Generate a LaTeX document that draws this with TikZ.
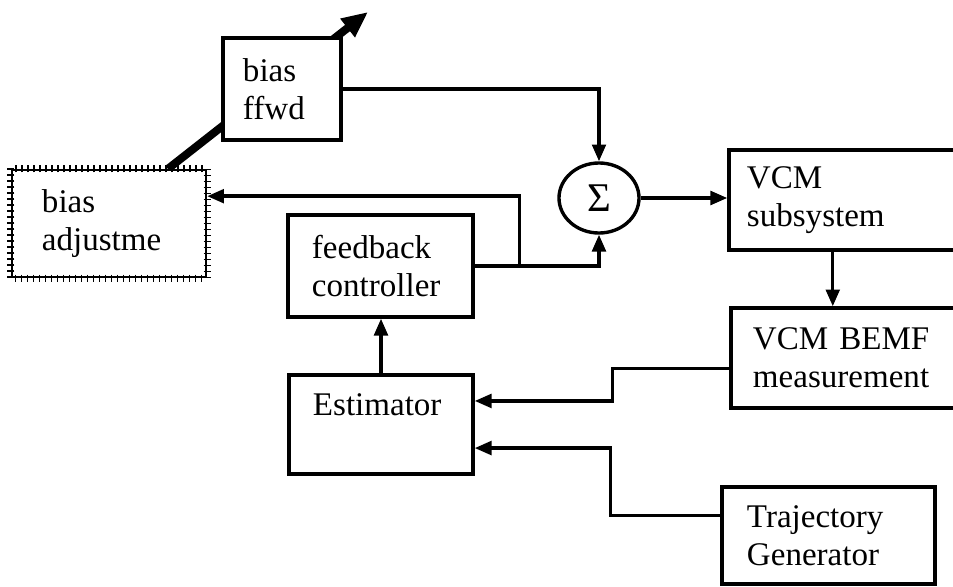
\documentclass[tikz,border=0pt]{standalone}
\usepackage{fontspec}
\setmainfont{Liberation Serif}
\usetikzlibrary{arrows.meta,calc,backgrounds,shapes.geometric,decorations.pathreplacing}
\begin{document}
\begin{tikzpicture}[x=0.025cm,y=-0.025cm,
        font=\fontsize{23.5}{27}\selectfont,
        box/.style={draw,line width=2.4pt,fill=white,align=left,inner ysep=0pt},
        wire/.style={line width=2.4pt,-{Triangle[length=0.42cm,width=0.34cm]}},
        ticked/.style={line width=1.2pt,decorate,decoration={ticks,segment length=0.15cm,amplitude=0.09cm}}]
            \useasboundingbox (0,0) rectangle (953,586);

            \node[box,minimum width=2.95cm,minimum height=2.55cm,text width=1.95cm,inner xsep=0.5cm] (biasff) at (282,89) {bias\\ffwd};
            \node[box,line width=1.6pt,minimum width=4.85cm,minimum height=2.675cm,text width=3.35cm,inner xsep=0.75cm] (biasadj) at (109,223.5) {bias\\adjustme};
            \node[box,minimum width=4.625cm,minimum height=2.55cm,text width=3.425cm,inner xsep=0.6cm] (fbc) at (380.5,266) {feedback\\controller};
            \node[box,text width=3.4cm,inner xsep=0.6cm,text height=1cm,text depth=1.475cm] (est) at (381,424.5) {Estimator};
            \node[draw,line width=2.4pt,ellipse,minimum width=2cm,minimum height=1.75cm,inner sep=0pt,font=\fontsize{29}{32}\selectfont] (sum) at (599,198) {Σ};
            \node[box,minimum width=5.775cm,minimum height=2.5cm,text width=4.875cm,inner xsep=0.45cm] (vcm) at (844.5,200) {VCM\\subsystem};
            \node[box,minimum width=5.675cm,minimum height=2.5cm,text width=4.575cm,inner xsep=0.55cm] (bemf) at (844.5,358) {VCM BEMF\\measurement};
            \node[box,minimum width=5.325cm,minimum height=2.425cm,text width=4.075cm,inner xsep=0.625cm] (traj) at (828.5,535.5) {Trajectory\\Generator};

            % hatched border of the adjustment block
            \draw[ticked] (biasadj.north west) rectangle (biasadj.south east);

            \coordinate (biastip) at (368,12);
            \coordinate (adjin) at ($(biasadj.north east)!0.25!(biasadj.south east)$);
            \coordinate (vcmout) at ($(vcm.south west)!0.45!(vcm.south east)$);
            \coordinate (bemfout) at ($(bemf.north west)!0.6!(bemf.south west)$);
            \coordinate (trajout) at ($(traj.north west)!0.3!(traj.south west)$);
            \coordinate (estin1) at ($(est.north east)!0.27!(est.south east)$);
            \coordinate (estin2) at ($(est.north east)!0.73!(est.south east)$);

            % thick line runs behind the ffwd box
            \begin{pgfonlayer}{background}
                \draw[line width=0.2cm,-{Triangle[length=0.65cm,width=0.55cm]}] ($(biasadj.north west)!0.8!(biasadj.north east)$) -- (biastip);
            \end{pgfonlayer}

            \draw[wire] (biasff.east) -| (sum.north);
            \draw[wire] (fbc.east) -| (sum.south);
            \draw[wire] ([xshift=1.125cm]fbc.east) |- (adjin);
            \draw[wire] (sum.east) -- (sum.east -| vcm.west);
            \draw[wire] (vcmout) -- (vcmout |- bemf.north);
            \draw[wire] (bemfout) -- ++(-117,0) |- (estin1);
            \draw[wire] (trajout) -- ++(-110,0) |- (estin2);
            \draw[wire] (est.north) -- (est.north |- fbc.south);
        \end{tikzpicture}
\end{document}
